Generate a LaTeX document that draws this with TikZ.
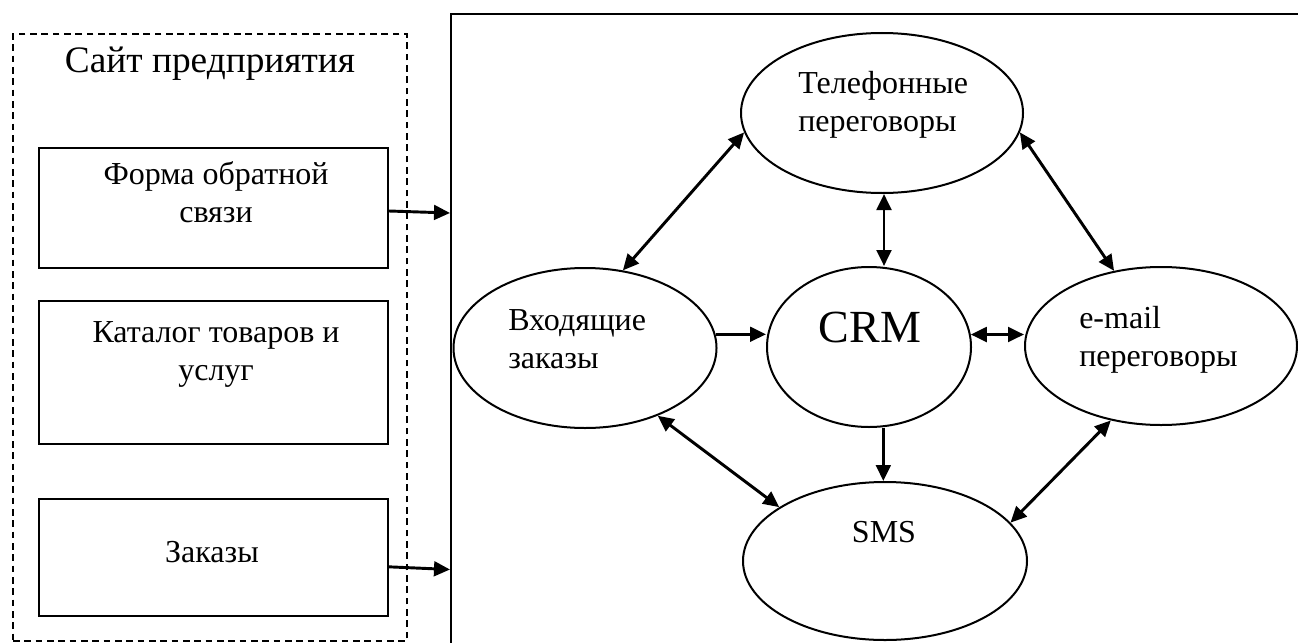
\documentclass[tikz,border=0pt]{standalone}
\usepackage{fontspec}
\setmainfont{Liberation Serif}
\usetikzlibrary{shapes.geometric,arrows.meta,calc}
\newdimen\upx \upx=0.75pt
\tikzset{
  frame/.style={draw, line width=1.5pt, rectangle, inner sep=0pt, anchor=north west},
  dashframe/.style={draw, line width=1.5pt, dash pattern=on 5pt off 3.5pt, rectangle, inner sep=0pt, anchor=north west},
  ell/.style={draw, line width=1.5pt, ellipse, inner sep=0pt},
  txt/.style={inner sep=0pt, font=\fontsize{24}{28}\selectfont},
  arr/.style={line width=2.2pt, -{Triangle[length=12pt,width=11pt]}},
  darr/.style={line width=2.2pt, {Triangle[length=12pt,width=11pt]}-{Triangle[length=12pt,width=11pt]}}
}
\begin{document}
\begin{tikzpicture}[x=0.75pt,y=-0.75pt]
\useasboundingbox (0,0) rectangle (1298,642);
% left dashed frame
\node[dashframe, minimum width=394\upx, minimum height=607\upx] (site) at (12,33) {};
\node[txt, font=\fontsize{28}{33}\selectfont, anchor=base] (title) at (210,73) {Сайт предприятия};
\node[frame, minimum width=349\upx, minimum height=120\upx] (box1) at (38,147) {};
\node[frame, minimum width=349\upx, minimum height=143\upx] (box2) at (38,300) {};
\node[frame, minimum width=349\upx, minimum height=117\upx] (box3) at (38,498) {};
\node[txt, align=center, anchor=base] (t1) at (216,222) {Форма обратной\\связи};
\node[txt, align=center, anchor=base] (t2) at (216,380) {Каталог товаров и\\услуг};
\node[txt, anchor=base] (t3) at (212,562) {Заказы};
% big frame
\node[frame, minimum width=870\upx, minimum height=660\upx] (big) at (450,13) {};
% ellipses
\node[ell, minimum width=282\upx, minimum height=160\upx] (phone) at (882,113) {};
\node[ell, minimum width=263\upx, minimum height=160\upx] (inc) at (585,348) {};
\node[ell, minimum width=204\upx, minimum height=160\upx] (crm) at (869,347) {};
\node[ell, minimum width=272\upx, minimum height=158\upx] (email) at (1161,346) {};
\node[ell, minimum width=284\upx, minimum height=158\upx] (sms) at (885,561) {};
\node[txt, align=left, anchor=base west] (tphone) at (798,131) {Телефонные\\переговоры};
\node[txt, align=left, anchor=base west] (tinc) at (508,368) {Входящие\\заказы};
\node[txt, align=left, anchor=base west] (temail) at (1079,366) {e-mail\\переговоры};
\node[txt, font=\fontsize{34.5}{40}\selectfont, anchor=base] (tcrm) at (870,342) {CRM};
\node[txt, anchor=base] (tsms) at (884,542) {SMS};
% connectors
\draw[arr] ([yshift=-2.25pt]box1.east) -- ([yshift=-3.75pt]box1.east -| big.west);
\draw[arr] ([yshift=-7pt]box3.east) -- ([yshift=-9pt]box3.east -| big.west);
\draw[darr] (phone.188) -- (inc.64);
\draw[darr] (phone.352) -- (email.122);
\draw[darr] ([xshift=1.5pt]phone.south) -- ([xshift=1.5pt]phone.south |- crm.north);
\draw[arr] (inc.6) -- (inc.6 -| crm.west);
\draw[darr] (crm.7) -- (crm.7 -| email.west);
\draw[arr] ([xshift=1pt]phone.south |- crm.south) -- ([xshift=1pt]phone.south |- sms.north);
\draw[darr] (inc.317) -- (sms.153);
\draw[darr] (email.236) -- (sms.17);
\end{tikzpicture}
\end{document}
